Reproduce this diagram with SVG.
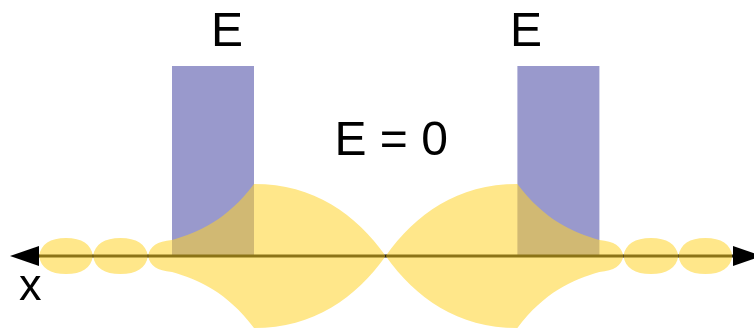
<svg xmlns="http://www.w3.org/2000/svg" xmlns:xlink="http://www.w3.org/1999/xlink" width="754" height="332" viewBox="0 0 754 332">
  <style>
    .label { font-family: "Liberation Sans", Arial, sans-serif; fill: #000; }
    .barrier { fill: #9999cc; }
    .axis { stroke: #000; stroke-width: 3; fill: none; }
    .head { fill: #000; }
  </style>
  <defs>
    <!-- upper-left quarter of the probability band, closed along the axis -->
    <path id="band-quarter" d="M39,256
      C41,244 50,238 66,238
      C82,238 91,244 93,256
      C95,244 104.5,238 120.5,238
      C136.5,238 146,244 148,256
      C150,246 157,241.5 172,240
      C199.3,232 226.7,220.1 254,184
      C314,184 355.7,214 385.7,256 Z"/>
  </defs>

  <!-- potential barriers -->
  <g id="barrier-left">
    <rect class="barrier" x="172" y="66" width="82" height="190"/>
  </g>
  <g id="barrier-right">
    <rect class="barrier" x="517.4" y="66" width="82" height="190"/>
  </g>

  <!-- x axis -->
  <g id="connectors">
    <line class="axis" x1="30" y1="256" x2="740" y2="256"/>
    <polygon class="head" points="10,256 39,246 39,266"/>
    <polygon class="head" points="762,256 733,246 733,266"/>
  </g>

  <!-- wave function band, mirrored about the axis and the well centre -->
  <g id="wavefunction" fill="#ffd42a" opacity="0.55">
    <use xlink:href="#band-quarter"/>
    <use xlink:href="#band-quarter" transform="translate(0,512) scale(1,-1)"/>
    <use xlink:href="#band-quarter" transform="translate(771.4,0) scale(-1,1)"/>
    <use xlink:href="#band-quarter" transform="translate(771.4,512) scale(-1,-1)"/>
  </g>

  <g id="labels">
    <text class="label" x="211" y="46" font-size="48">E</text>
    <text class="label" x="510" y="46" font-size="48">E</text>
    <text class="label" x="334.5" y="155" font-size="48">E = 0</text>
    <text class="label" x="19" y="300" font-size="45">x</text>
  </g>
</svg>
